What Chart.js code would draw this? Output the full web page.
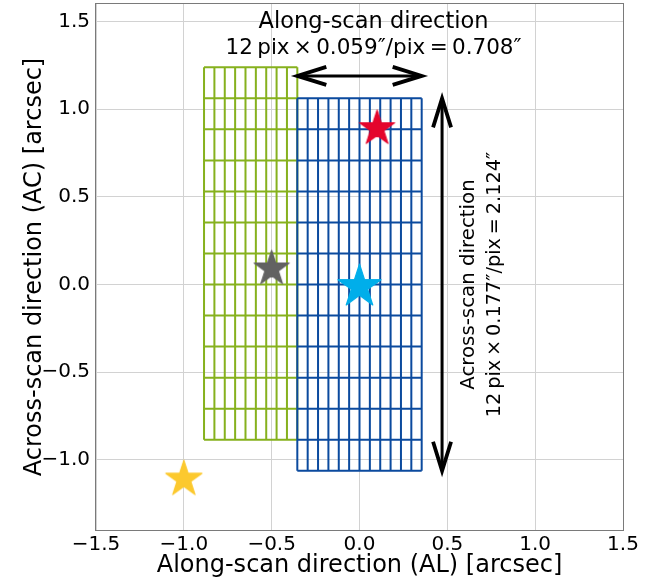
<!DOCTYPE html>
<html>
<head>
<meta charset="utf-8">
<script src="https://cdn.jsdelivr.net/npm/chart.js@4.4.0/dist/chart.umd.min.js"></script>
<style>
  html, body { margin: 0; padding: 0; background: #fff; }
  canvas { display: block; }
</style>
</head>
<body>
<canvas id="chart" width="649" height="583"></canvas>
<script>
// source positions (arcsec)
const starAL = [0.1, -0.5, 0.0, -1.0];
const starAC = [0.9, 0.1, 0.0, -1.1];
const starColors = ['#e4052c', '#626262', '#00aeea', '#fcc92e'];
const starSizes = [35, 35, 43, 36];

// window: 12 x 12 pixels of 0.059" (AL) x 0.177" (AC)
const pixAL = 0.059;
const pixAC = 0.177;
const blueOrigin = [-0.354, -1.062];
const blueCols = 12, blueRows = 12;
const greenOrigin = [-0.885, -0.885];   // visible part of the shifted window
const greenCols = 9, greenRows = 12;

const xTicks = [-1.5, -1.0, -0.5, 0.0, 0.5, 1.0, 1.5];
const yTicks = [-1.0, -0.5, 0.0, 0.5, 1.0, 1.5];

// double arrows [x0, y0, x1, y1]
const alArrow = [-0.354, 1.19, 0.354, 1.19];
const acArrow = [0.47, -1.062, 0.47, 1.062];

const alLabel = ['Along-scan direction', '12\u2009pix\u2009×\u20090.059″/pix\u2009=\u20090.708″'];
const acLabel = ['Across-scan direction', '12\u2009pix\u2009×\u20090.177″/pix\u2009=\u20092.124″'];
const alLabelPos = [0.08, 1.387];
const acLabelPos = [0.725, 0.0];

const FONT = "'DejaVu Sans', sans-serif";

function windowLines(origin, cols, rows) {
  const pts = [];
  const x0 = origin[0], y0 = origin[1];
  const x1 = x0 + cols * pixAL, y1 = y0 + rows * pixAC;
  for (let i = 0; i <= cols; i++) {
    const x = x0 + i * pixAL;
    pts.push({x: x, y: y0}, {x: x, y: y1}, {x: null, y: null});
  }
  for (let j = 0; j <= rows; j++) {
    const y = y0 + j * pixAC;
    pts.push({x: x0, y: y}, {x: x1, y: y}, {x: null, y: null});
  }
  return pts;
}

function starImage(color, size) {
  const c = document.createElement('canvas');
  c.width = size + 4; c.height = size + 4;
  const g = c.getContext('2d');
  const R = size / 2 / Math.sin(72 * Math.PI / 180);
  const r = R * 0.382;
  const cx = c.width / 2, cy = c.height / 2 + R * 0.095;
  g.beginPath();
  for (let k = 0; k < 10; k++) {
    const rad = k % 2 === 0 ? R : r;
    const a = -Math.PI / 2 + k * Math.PI / 5;
    const px = cx + rad * Math.cos(a), py = cy + rad * Math.sin(a);
    k === 0 ? g.moveTo(px, py) : g.lineTo(px, py);
  }
  g.closePath();
  g.fillStyle = color;
  g.fill();
  g.strokeStyle = color;
  g.lineWidth = 1.2;
  g.lineJoin = 'round';
  g.stroke();
  return c;
}

const datasets = [];
starAL.forEach((x, i) => {
  datasets.push({
    data: [{x: x, y: starAC[i]}],
    pointStyle: starImage(starColors[i], starSizes[i]),
    pointRadius: starSizes[i] / 2,
    showLine: false,
    order: 0
  });
});
datasets.push({
  data: [{x: alArrow[0], y: alArrow[1]}, {x: alArrow[2], y: alArrow[3]}],
  borderColor: '#000', borderWidth: 3, showLine: true, pointRadius: 0, order: 1
});
datasets.push({
  data: [{x: acArrow[0], y: acArrow[1]}, {x: acArrow[2], y: acArrow[3]}],
  borderColor: '#000', borderWidth: 3, showLine: true, pointRadius: 0, order: 1
});
datasets.push({
  data: windowLines(blueOrigin, blueCols, blueRows),
  borderColor: '#0b4a9e', borderWidth: 2, showLine: true, pointRadius: 0, order: 2
});
datasets.push({
  data: windowLines(greenOrigin, greenCols, greenRows),
  borderColor: '#86b11e', borderWidth: 2, showLine: true, pointRadius: 0, order: 3
});

function arrowHead(ctx, tx, ty, dx, dy) {
  const L = 29, W = 9;
  const len = Math.hypot(dx, dy);
  const ux = dx / len, uy = dy / len;
  ctx.beginPath();
  ctx.moveTo(tx + ux * L - uy * W, ty + uy * L + ux * W);
  ctx.lineTo(tx, ty);
  ctx.lineTo(tx + ux * L + uy * W, ty + uy * L - ux * W);
  ctx.stroke();
}

const decorations = {
  id: 'decorations',
  afterDatasetsDraw(chart) {
    const {ctx, chartArea: a, scales: {x, y}} = chart;
    ctx.save();
    ctx.strokeStyle = '#000';
    ctx.lineWidth = 3.8;
    ctx.lineJoin = 'miter';
    [alArrow, acArrow].forEach(arr => {
      const x0 = x.getPixelForValue(arr[0]), y0 = y.getPixelForValue(arr[1]);
      const x1 = x.getPixelForValue(arr[2]), y1 = y.getPixelForValue(arr[3]);
      arrowHead(ctx, x0, y0, x1 - x0, y1 - y0);
      arrowHead(ctx, x1, y1, x0 - x1, y0 - y1);
    });

    ctx.fillStyle = '#000';
    ctx.textAlign = 'center';
    ctx.textBaseline = 'alphabetic';
    let px = x.getPixelForValue(alLabelPos[0]), py = y.getPixelForValue(alLabelPos[1]);
    ctx.font = '22.5px ' + FONT;
    ctx.fillText(alLabel[0], px, py - 13);
    ctx.font = '21.5px ' + FONT;
    ctx.fillText(alLabel[1], px, py + 13);

    px = x.getPixelForValue(acLabelPos[0]); py = y.getPixelForValue(acLabelPos[1]);
    ctx.translate(px, py);
    ctx.rotate(-Math.PI / 2);
    ctx.font = '19.8px ' + FONT;
    ctx.fillText(acLabel[0], 0, -13);
    ctx.font = '19.3px ' + FONT;
    ctx.fillText(acLabel[1], 0, 13);
    ctx.restore();

    ctx.save();
    ctx.strokeStyle = '#7a7a7a';
    ctx.lineWidth = 1;
    ctx.strokeRect(a.left - 0.5, a.top - 0.5, a.width + 1, a.height + 1);
    ctx.restore();
  }
};

function fmt(v) {
  return v.toFixed(1).replace('-', '\u2212');
}

new Chart(document.getElementById('chart'), {
  type: 'scatter',
  data: {datasets: datasets},
  options: {
    responsive: false,
    animation: false,
    devicePixelRatio: 1,
    layout: {autoPadding: false, padding: {left: 0, top: 4, right: 26, bottom: 0}},
    plugins: {legend: {display: false}, tooltip: {enabled: false}},
    scales: {
      x: {
        type: 'linear', min: -1.5, max: 1.5,
        afterBuildTicks: s => { s.ticks = xTicks.map(v => ({value: v})); },
        afterFit: s => { s.height = 53; s.paddingLeft = 0; s.paddingRight = 0; },
        ticks: {callback: v => fmt(v), color: '#000', padding: 3, maxRotation: 0,
                font: {family: FONT, size: 20}},
        grid: {color: '#d2d2d2', lineWidth: 1, drawTicks: false},
        border: {display: false},
        title: {display: true, text: 'Along-scan direction (AL) [arcsec]', color: '#000',
                font: {family: FONT, size: 24}, padding: {top: 0, bottom: 3}}
      },
      y: {
        type: 'linear', min: -1.4, max: 1.6,
        afterBuildTicks: s => { s.ticks = yTicks.map(v => ({value: v})); },
        afterFit: s => { s.width = 96; s.paddingTop = 0; s.paddingBottom = 0; },
        ticks: {callback: v => fmt(v), color: '#000', padding: 6,
                font: {family: FONT, size: 20}},
        grid: {color: '#d2d2d2', lineWidth: 1, drawTicks: false},
        border: {display: false},
        title: {display: true, text: 'Across-scan direction (AC) [arcsec]', color: '#000',
                font: {family: FONT, size: 24}, padding: {top: 20, bottom: 0}}
      }
    }
  },
  plugins: [decorations]
});
</script>
</body>
</html>
